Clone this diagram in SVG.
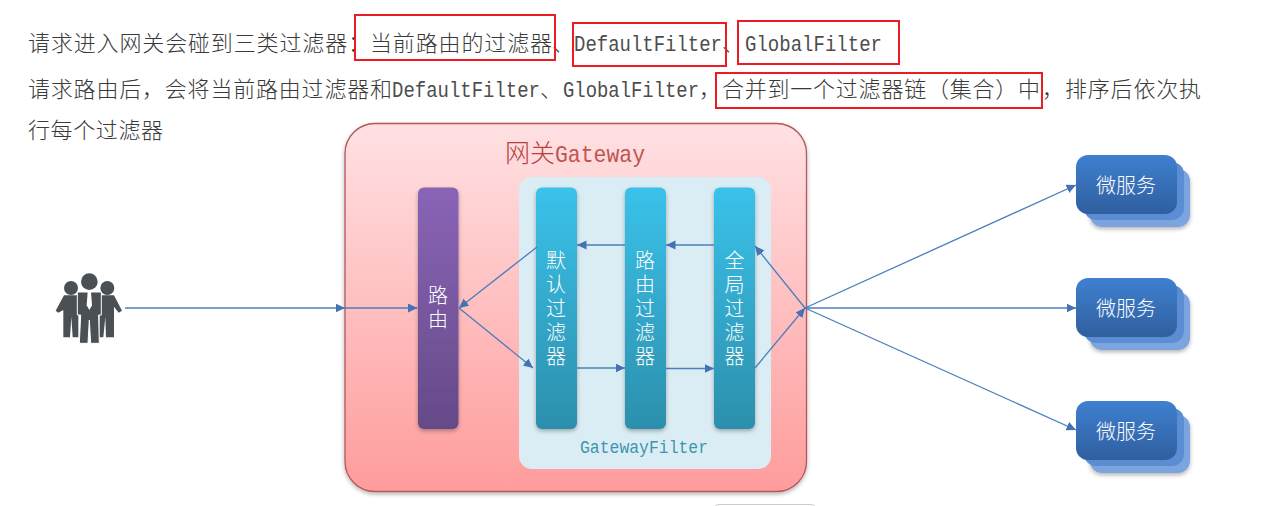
<svg xmlns="http://www.w3.org/2000/svg" width="1275" height="506" viewBox="0 0 1275 506">
<style>
.t{font-family:"Noto Sans CJK SC","Liberation Sans",sans-serif;font-size:22px;fill:#3a3a3a;font-weight:300}
.m{font-family:"Liberation Mono",monospace;font-size:22.500px;fill:#4d4d4d}
.r{fill:none;stroke:#ed1c24;stroke-width:2}
.w{font-family:"Noto Sans CJK SC",sans-serif;font-size:20px;fill:#fff;text-anchor:middle;font-weight:300}
.v{writing-mode:vertical-rl;letter-spacing:4px}
.c{fill:none;stroke:#4a7ebb;stroke-width:1.300;marker-end:url(#a)}
.f{fill:url(#tl);filter:url(#s)}
.sv1{fill:#7ba5df}.sv2{fill:#5b8dd4}.sv3{fill:url(#bl)}
.p{fill:#4a5053}
</style>
<defs>
<marker id="a" markerUnits="userSpaceOnUse" markerWidth="11" markerHeight="10" refX="9.500" refY="4.500" orient="auto"><path d="M0 0L9.500 4.500L0 9Z" fill="#4472b4"/></marker>
<linearGradient id="gw" x1="0" y1="0" x2="0" y2="1"><stop offset="0" stop-color="#ffe1e3"/><stop offset="1" stop-color="#ff9c9c"/></linearGradient>
<linearGradient id="pu" x1="0" y1="0" x2="0" y2="1"><stop offset="0" stop-color="#8a64b7"/><stop offset="1" stop-color="#654a87"/></linearGradient>
<linearGradient id="tl" x1="0" y1="0" x2="0" y2="1"><stop offset="0" stop-color="#3ac2ea"/><stop offset="1" stop-color="#2c8fac"/></linearGradient>
<linearGradient id="bl" x1="0" y1="0" x2="0" y2="1"><stop offset="0" stop-color="#3f80d0"/><stop offset="1" stop-color="#2f5f9f"/></linearGradient>
<filter id="s" x="-20%" y="-10%" width="140%" height="120%"><feDropShadow dx="0" dy="2" stdDeviation="2" flood-color="#000" flood-opacity=".3"/></filter>
<g id="svc"><rect class="sv1" x="14" y="14" width="100" height="58" rx="12" filter="url(#s)"/><rect class="sv2" x="8" y="7" width="100" height="58" rx="12"/><rect class="sv3" x="0" y="0" width="101" height="59" rx="12"/><text class="w" x="50" y="38">微服务</text></g>
</defs>
<rect width="1275" height="506" fill="#fff"/>
<g id="intro">
<text class="t" x="28" y="51" textLength="342">请求进入网关会碰到三类过滤器：</text>
<text class="t" x="370" y="51" textLength="182">当前路由的过滤器</text>
<text class="t" x="552" y="51">、</text>
<text class="m" transform="translate(574 51) scale(.843 1)">DefaultFilter</text>
<text class="t" x="722" y="51">、</text>
<text class="m" transform="translate(745 51) scale(.846 1)">GlobalFilter</text>
<text class="t" x="28" y="97" textLength="364">请求路由后，会将当前路由过滤器和</text>
<text class="m" transform="translate(392 97) scale(.843 1)">DefaultFilter</text>
<text class="t" x="540" y="97">、</text>
<text class="m" transform="translate(563 97) scale(.84 1)">GlobalFilter</text>
<text class="t" x="699" y="97">，</text>
<text class="t" x="722" y="97" textLength="318">合并到一个过滤器链（集合）中</text>
<text class="t" x="1042" y="97">，</text>
<text class="t" x="1065" y="97" textLength="136">排序后依次执</text>
<text class="t" x="28" y="138" textLength="135">行每个过滤器</text>
<rect class="r" x="355" y="15" width="200" height="45"/>
<rect class="r" x="573" y="23" width="153" height="43"/>
<rect class="r" x="738" y="21" width="161" height="43"/>
<rect class="r" x="716" y="73" width="326" height="35"/>
</g>
<g id="gateway"><rect x="345" y="123.500" width="461.500" height="368" rx="30" fill="url(#gw)" stroke="#b5565a" stroke-width="1.300" filter="url(#s)"/>
<text x="505" y="162" font-family="Noto Sans CJK SC,sans-serif" font-size="25" font-weight="300" fill="#b8403c">网关</text>
<text transform="translate(555 162) scale(.893 1)" font-family="Liberation Mono,monospace" font-size="24" fill="#c05450">Gateway</text></g>
<g id="gateway-filter"><rect x="519" y="177" width="252" height="292" rx="13" fill="#dbedf4"/>
<text transform="translate(580 453) scale(.864 1)" font-family="Liberation Mono,monospace" font-size="19" fill="#3d96ae">GatewayFilter</text></g>
<g id="route"><rect x="418" y="187.500" width="40.500" height="241.500" rx="6" fill="url(#pu)" filter="url(#s)"/>
<text class="w v" x="438" y="309">路由</text></g>
<g id="default-filter"><rect class="f" x="536" y="187.500" width="41" height="241.500" rx="6"/>
<text class="w v" x="556" y="310">默认过滤器</text></g>
<g id="route-filter"><rect class="f" x="625" y="187.500" width="41" height="241.500" rx="6"/>
<text class="w v" x="645" y="310">路由过滤器</text></g>
<g id="global-filter"><rect class="f" x="714" y="187.500" width="41" height="241.500" rx="6"/>
<text class="w v" x="734.500" y="310">全局过滤器</text></g>
<g id="users" transform="translate(40 260) scale(.3333)">
<circle class="p" cx="93" cy="84" r="21"/><circle class="p" cx="202" cy="84" r="21"/><circle class="p" cx="148" cy="65" r="25"/>
<path class="p" d="M72 106H115V232H98L94 170L90 232H70V150L55 158L47 152Z"/>
<path class="p" d="M180 106H222L246 152L236 158L222 140V232H198L196 170L190 232H178Z"/>
<path d="M112 96H184V165L176 165L178 250H152L148 180L144 250H118L122 165H112Z" class="p" stroke="#fff" stroke-width="3"/>
<path d="M143 96H153L156 136L148 150L140 136Z" fill="#fff"/>
</g>
<g id="svc1" transform="translate(1076 155)"><use href="#svc"/></g>
<g id="svc2" transform="translate(1076 278)"><use href="#svc"/></g>
<g id="svc3" transform="translate(1076 401)"><use href="#svc"/></g>
<g id="connectors">
<path class="c" d="M125 308H345"/><path class="c" d="M345 308H417.500"/>
<path class="c" d="M537 247L459 308"/><path class="c" d="M459 308L533 368"/>
<path class="c" d="M625 245H577"/><path class="c" d="M714 245H666"/>
<path class="c" d="M577 368H625"/><path class="c" d="M666 368.500H714"/>
<path class="c" d="M755 368L805 308"/><path class="c" d="M805 308L755 246"/>
<path class="c" d="M805 308L1076 185"/><path class="c" d="M805 308H1076"/><path class="c" d="M805 308L1076 430"/>
</g>
<path id="edge-fragment" d="M715 506V507Q715 504.500 719 504.500H811Q815 504.500 815 507" fill="none" stroke="#ccc"/>
</svg>
